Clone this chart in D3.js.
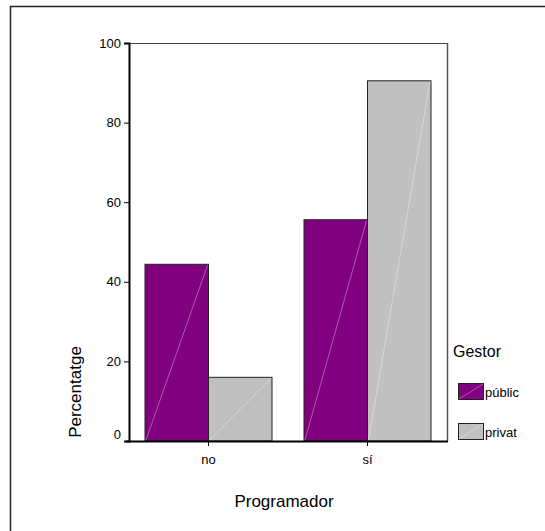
<!DOCTYPE html>
<html>
<head>
<meta charset="utf-8">
<script src="https://cdn.jsdelivr.net/npm/d3@7/dist/d3.min.js"></script>
<style>
html,body{margin:0;padding:0;background:#fff;}
svg{display:block;font-family:"Liberation Sans",Arial,sans-serif;}
</style>
</head>
<body>
<svg id="chart" width="545" height="531"></svg>
<script>
const categories = ["no", "sí"];
const seriesNames = ["públic", "privat"];
const publicValues = [44.4, 55.6];
const privatValues = [16.0, 90.5];
const yTicks = [0, 20, 40, 60, 80, 100];
const colors = ["#800080", "#c0c0c0"];

(function () {
const svg = d3.select("#chart");
const pLeft = 129, pRight = 447, pTop = 43, pBottom = 441;

// outer frame
svg.append("path").attr("d", "M10.5,531 V6.5 H545").attr("fill", "none").attr("stroke", "#222").attr("stroke-width", 1.5);

const x = d3.scaleBand().domain(categories).range([pLeft, pRight]).paddingInner(0).paddingOuter(0);
const xs = d3.scaleBand().domain(seriesNames).range([0, x.bandwidth()]).paddingInner(0).paddingOuter(0.252);
const y = d3.scaleLinear().domain([0, 100]).range([pBottom, pTop]);

// plot frame top/right
svg.append("line").attr("x1", pLeft).attr("x2", pRight).attr("y1", pTop + 0.5).attr("y2", pTop + 0.5).attr("stroke", "#444").attr("stroke-width", 1);
svg.append("line").attr("x1", pRight + 0.5).attr("x2", pRight + 0.5).attr("y1", pTop).attr("y2", pBottom).attr("stroke", "#555").attr("stroke-width", 1.5);

const data = categories.map((c, i) => ({cat: c, vals: [publicValues[i], privatValues[i]]}));
const g = svg.append("g");
data.forEach(d => {
  d.vals.forEach((v, j) => {
    const bx = x(d.cat) + xs(seriesNames[j]);
    const bw = xs.bandwidth();
    g.append("rect").attr("x", bx).attr("y", y(v)).attr("width", bw).attr("height", y(0) - y(v))
      .attr("fill", colors[j]).attr("stroke", "#222").attr("stroke-width", 1);
    g.append("line").attr("x1", bx + 1).attr("y1", y(0) - 1).attr("x2", bx + bw - 1).attr("y2", y(v) + 1)
      .attr("stroke", "#fff").attr("stroke-opacity", 0.35).attr("stroke-width", 1);
  });
});

// y axis
const yAxis = d3.axisLeft(y).tickValues(yTicks).tickSize(5).tickPadding(3).tickFormat(d3.format("d"));
const ya = svg.append("g").attr("transform", `translate(${pLeft},0)`).call(yAxis);
ya.select(".domain").attr("stroke", "#000").attr("stroke-width", 2);
ya.selectAll("text").attr("font-size", 13).attr("font-family", "Liberation Sans, Arial, sans-serif").attr("fill", "#000");
ya.selectAll(".tick").filter(d => d === 0).select("text").attr("dy", "-0.2em");

// x axis
const xAxis = d3.axisBottom(x).tickSize(5).tickPadding(9).tickSizeOuter(0);
const xa = svg.append("g").attr("transform", `translate(0,${pBottom})`).call(xAxis);
xa.select(".domain").attr("d", `M${pLeft - 3},0.5H${pRight + 1}`).attr("stroke", "#000").attr("stroke-width", 2);
xa.selectAll("text").attr("font-size", 13).attr("font-family", "Liberation Sans, Arial, sans-serif").attr("fill", "#000");

// axis titles
svg.append("text").attr("x", 284).attr("y", 507).attr("text-anchor", "middle").attr("font-size", 17).text("Programador");
svg.append("text").attr("transform", "translate(81,392) rotate(-90)").attr("text-anchor", "middle").attr("font-size", 17).text("Percentatge");

// legend
svg.append("text").attr("x", 453).attr("y", 357).attr("font-size", 16).text("Gestor");
seriesNames.forEach((s, i) => {
  const ly = 383 + i * 40;
  svg.append("rect").attr("x", 458.5).attr("y", ly + 0.5).attr("width", 25).attr("height", 16).attr("fill", colors[i]).attr("stroke", "#222");
  svg.append("line").attr("x1", 459).attr("y1", ly + 16).attr("x2", 483).attr("y2", ly + 1).attr("stroke", "#fff").attr("stroke-opacity", 0.35);
  svg.append("text").attr("x", 485).attr("y", ly + 14).attr("font-size", 13).text(s);
});
})();
</script>
</body>
</html>
